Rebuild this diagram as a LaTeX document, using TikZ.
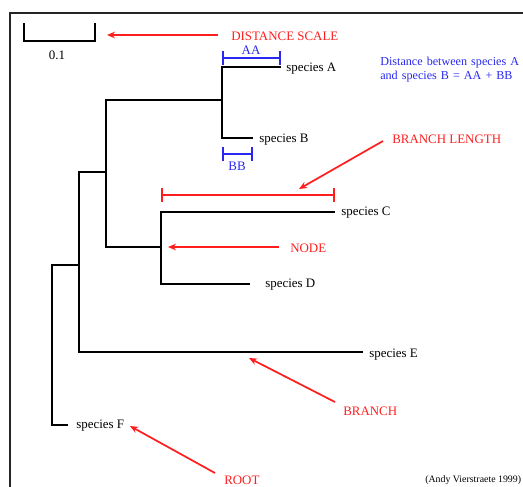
\documentclass[tikz,border=0pt]{standalone}
\usepackage{fontspec}
\setmainfont{Liberation Serif}
\usetikzlibrary{arrows.meta}
\definecolor{tred}{RGB}{255,30,30}
\definecolor{tblue}{RGB}{40,40,240}
\tikzset{
  tree/.style={line width=1.6pt, black},
  lbl/.style={inner sep=0pt, anchor=west, font=\fontsize{9.7}{11}\selectfont},
  redlbl/.style={lbl, text=tred},
  bluelbl/.style={lbl, text=tblue},
  pointer/.style={tred, line width=1.3pt, -{Stealth[length=6pt,width=5pt]}},
  redbar/.style={tred, line width=1.3pt, {Bar[width=10pt]}-{Bar[width=10pt]}},
  bluebar/.style={tblue, line width=1.3pt, {Bar[width=10pt]}-{Bar[width=10pt]}},
}
\begin{document}
\begin{tikzpicture}[x=0.75pt,y=-0.75pt]
\useasboundingbox (0,0) rectangle (523,486);
\clip (0,0) rectangle (523,486);
% frame
\draw[line width=1.8pt, black!85] (530,13) -- (10,13) -- (10,495);

% distance scale bar
\coordinate (s1) at (24,23);
\coordinate (s2) at (24,41);
\coordinate (s3) at (95,41);
\coordinate (s4) at (95,23);
\draw[tree, line width=1.4pt] (s1) -- (s2) -- (s3) -- (s4);
\node[lbl, anchor=center] (scale) at (57,55) {0.1};

% tree: internal nodes
\coordinate (root) at (52,425);
\coordinate (nF) at (52,265);
\coordinate (nE) at (79,172);
\coordinate (nABtop) at (106,100);
\coordinate (nCD) at (106,247);
\coordinate (nAB) at (222,100);
\coordinate (nC) at (161,212);
\coordinate (nD) at (161,284);
\coordinate (nCDv) at (161,247);

% leaves
\node[lbl] (spA) at (286,69) {species A};
\node[lbl] (spB) at (259,140) {species B};
\node[lbl] (spC) at (341,213) {species C};
\node[lbl] (spD) at (265,285) {species D};
\node[lbl] (spE) at (369,355) {species E};
\node[lbl] (spF) at (76,426) {species F};

\coordinate (tA) at (281,67);
\coordinate (tB) at (253,138);
\coordinate (tC) at (335,212);
\coordinate (tD) at (250,284);
\coordinate (tE) at (363,352);
\coordinate (tF) at (68,425);

% branches
\draw[tree] (tA) -- (222,67) -- (222,138) -- (tB);
\draw[tree] (nAB) -- (nABtop) -- (nCD) -- (nCDv);
\draw[tree] (tC) -- (nC) -- (nD) -- (tD);
\draw[tree] (nABtop |- nE) -- (nE) -- (79,352) -- (tE);
\draw[tree] (nE |- nF) -- (nF) -- (root) -- (tF);

% distance markers AA and BB
\coordinate (aa1) at (222,58);
\coordinate (aa2) at (281,58);
\draw[bluebar] (aa1) -- (aa2);
\node[bluelbl, anchor=center] (AA) at (251,50) {AA};
\coordinate (bb1) at (222,154);
\coordinate (bb2) at (253,154);
\draw[bluebar] (bb1) -- (bb2);
\node[bluelbl, anchor=center] (BB) at (237,166) {BB};

\node[bluelbl, anchor=north west, align=left, text width=160pt,
  font=\fontsize{9.1}{10.6}\selectfont] (dist) at (380,57)
  {Distance between species A\\and species B = AA + BB};

% branch length marker
\coordinate (bl1) at (161,195);
\coordinate (bl2) at (335,195);
\draw[redbar] (bl1) -- (bl2);

% red annotations
\node[redlbl] (lscale) at (231,36) {DISTANCE SCALE};
\coordinate (pscale) at (107,35);
\draw[pointer] (218,35) -- (pscale);

\node[redlbl] (lbranchlen) at (392,139) {BRANCH LENGTH};
\coordinate (pbranchlen) at (299,189);
\draw[pointer] (383,141) -- (pbranchlen);

\node[redlbl] (lnode) at (290,248) {NODE};
\coordinate (pnode) at (168,247);
\draw[pointer] (279,247) -- (pnode);

\node[redlbl] (lbranch) at (343,411) {BRANCH};
\coordinate (pbranch) at (249,358);
\draw[pointer] (335,402) -- (pbranch);

\node[redlbl] (lroot) at (224,480) {ROOT};
\coordinate (proot) at (130,426);
\draw[pointer] (215,473) -- (proot);

% credit
\node[lbl, font=\fontsize{7.4}{9}\selectfont] (credit) at (425,480) {(Andy Vierstraete 1999)};
\end{tikzpicture}
\end{document}
